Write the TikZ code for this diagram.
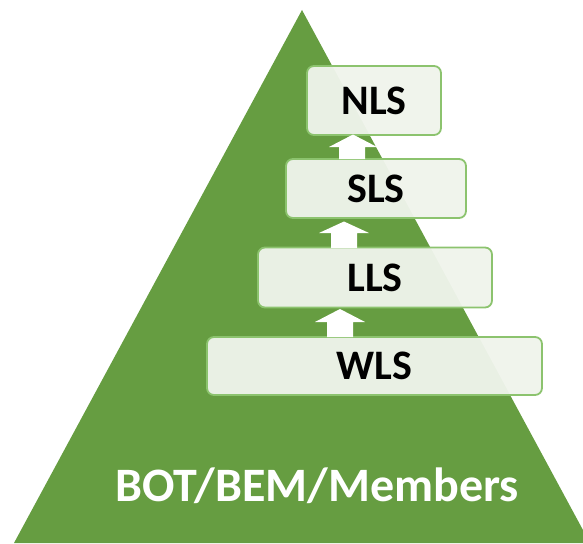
\documentclass[tikz,border=0pt]{standalone}
\usepackage{fontspec}
\setmainfont{Carlito}
\definecolor{pyr}{HTML}{669D41}
\definecolor{boxline}{HTML}{8CC36E}
\definecolor{boxfill}{HTML}{EFF4EB}
\tikzset{
  level/.style={draw=boxline, line width=1.8pt, fill=boxfill, fill opacity=0.96, text opacity=1,
    rounded corners=7pt, inner sep=0pt, font=\bfseries\fontsize{42}{42}\selectfont, text=black},
  uparrow/.style={fill=white}
}
\begin{document}
\begin{tikzpicture}[x=1pt,y=-1pt]
\useasboundingbox (0,0) rectangle (583,543);
\begin{scope}
\clip (0,0) rectangle (583,543);
\fill[pyr] (302,10) -- (14,543) -- (590,543) -- cycle;
\end{scope}
% boxes
\node[level, minimum width=134pt, minimum height=69pt] (nls) at (374,100.5) {NLS};
\node[level, minimum width=180pt, minimum height=59pt] (sls) at (376,188.5) {SLS};
\node[level, minimum width=234pt, minimum height=60pt] (lls) at (375,277.5) {LLS};
\node[level, minimum width=335pt, minimum height=58pt] (wls) at (374.5,366) {WLS};
% block arrows
\fill[uparrow] (339,159) -- (339,147) -- (329,147) -- (353,134.5) -- (377,147) -- (365,147) -- (365,159) -- cycle;
\fill[uparrow] (331,248) -- (331,233) -- (319,233) -- (344,221.5) -- (369,233) -- (357,233) -- (357,248) -- cycle;
\fill[uparrow] (327,337) -- (327,322) -- (315,322) -- (340,309) -- (365,322) -- (353,322) -- (353,337) -- cycle;
% bottom label
\node[anchor=base, text=white, font=\bfseries\fontsize{48}{48}\selectfont, inner sep=0pt] (base) at (317,501) {BOT/BEM/Members};
\end{tikzpicture}
\end{document}
